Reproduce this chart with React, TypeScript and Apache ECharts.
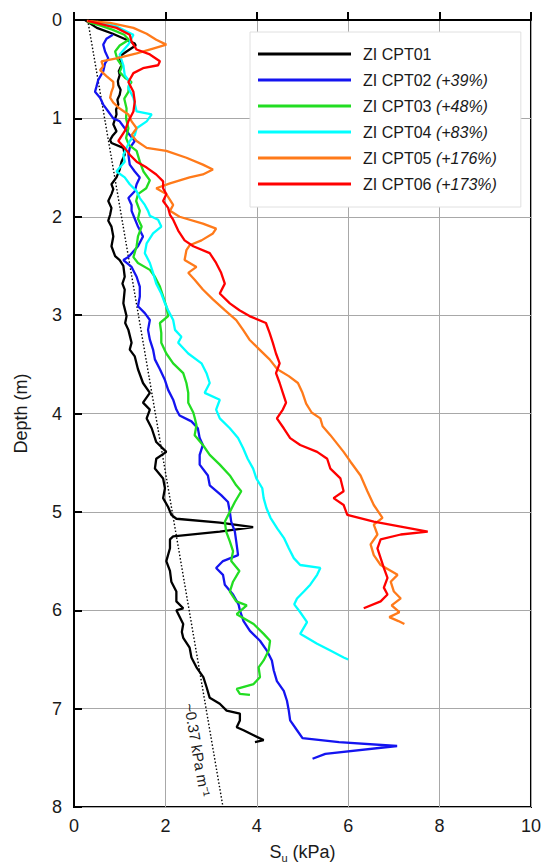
import React, { useEffect, useRef } from "react";
import * as echarts from "echarts";

// [Su (kPa), depth (m)]
const cpt01: [number, number][] = [
  [0.24, 0.0], [0.5, 0.08], [0.85, 0.14], [1.1, 0.19], [1.33, 0.24], [1.35, 0.26], [1.15, 0.32], [1.0, 0.37], [1.04, 0.46], [0.98, 0.52],
  [1.0, 0.56], [0.96, 0.62], [0.97, 0.66], [1.02, 0.71], [1.0, 0.76], [0.95, 0.81], [0.97, 0.86], [0.92, 0.91], [0.93, 0.96], [0.86, 1.06],
  [0.93, 1.13], [0.84, 1.18], [0.79, 1.22], [0.82, 1.25], [1.08, 1.3], [1.11, 1.37], [1.04, 1.44], [1.0, 1.52], [0.93, 1.6], [0.82, 1.67],
  [0.86, 1.72], [0.82, 1.77], [0.75, 1.84], [0.82, 1.91], [0.79, 1.98], [0.75, 2.04], [0.82, 2.1], [0.86, 2.2], [0.82, 2.3], [0.9, 2.4],
  [1.0, 2.44], [1.08, 2.5], [1.11, 2.61], [1.06, 2.68], [1.11, 2.74], [1.08, 2.88], [1.15, 3.01], [1.12, 3.08], [1.19, 3.15], [1.26, 3.28],
  [1.22, 3.35], [1.33, 3.42], [1.4, 3.55], [1.51, 3.69], [1.66, 3.79], [1.51, 3.89], [1.66, 3.96], [1.59, 4.05], [1.7, 4.15], [1.8, 4.29],
  [2.02, 4.39], [1.8, 4.46], [1.77, 4.56], [1.95, 4.66], [1.99, 4.76], [1.95, 4.86], [2.06, 4.95], [2.13, 5.03], [2.24, 5.07], [3.19, 5.11],
  [3.92, 5.155], [3.19, 5.2], [2.17, 5.25], [2.1, 5.28], [2.1, 5.37], [2.02, 5.5], [2.1, 5.6], [2.13, 5.71], [2.24, 5.81], [2.24, 5.91],
  [2.39, 5.98], [2.24, 6.0], [2.39, 6.14], [2.36, 6.22], [2.39, 6.28], [2.53, 6.38], [2.57, 6.48], [2.68, 6.58], [2.83, 6.68], [2.9, 6.78],
  [2.97, 6.89], [3.19, 6.95], [3.34, 7.02], [3.63, 7.05], [3.63, 7.12], [3.56, 7.19], [3.71, 7.22], [3.93, 7.27], [4.15, 7.32], [3.96, 7.34],
];

const cpt02: [number, number][] = [
  [0.85, 0.15], [0.71, 0.19], [0.64, 0.25], [0.68, 0.32], [0.75, 0.39], [0.68, 0.44], [0.64, 0.52], [0.53, 0.61], [0.49, 0.68], [0.46, 0.73],
  [0.57, 0.79], [0.64, 0.86], [0.75, 0.93], [0.86, 1.0], [1.0, 1.03], [1.11, 1.1], [1.22, 1.17], [1.33, 1.23], [1.22, 1.3], [1.19, 1.37],
  [1.22, 1.47], [1.33, 1.54], [1.44, 1.6], [1.37, 1.67], [1.33, 1.74], [1.19, 1.81], [1.26, 1.88], [1.26, 1.94], [1.33, 2.02], [1.4, 2.1],
  [1.51, 2.2], [1.4, 2.3], [1.19, 2.41], [1.08, 2.44], [1.26, 2.51], [1.37, 2.61], [1.44, 2.71], [1.44, 2.81], [1.4, 2.91], [1.55, 2.98],
  [1.66, 3.05], [1.62, 3.15], [1.66, 3.25], [1.73, 3.35], [1.77, 3.45], [1.88, 3.55], [1.99, 3.66], [2.06, 3.76], [2.17, 3.86], [2.24, 3.96],
  [2.31, 4.02], [2.57, 4.08], [2.71, 4.15], [2.75, 4.25], [2.82, 4.32], [2.75, 4.42], [2.75, 4.52], [2.93, 4.63], [2.97, 4.73], [3.22, 4.83],
  [3.37, 4.9], [3.41, 5.0], [3.44, 5.1], [3.52, 5.2], [3.55, 5.3], [3.59, 5.44], [3.26, 5.5], [3.11, 5.57], [3.26, 5.64], [3.3, 5.74],
  [3.48, 5.84], [3.6, 5.94], [3.63, 6.0], [3.71, 6.11], [3.85, 6.21], [4.07, 6.31], [4.22, 6.41], [4.33, 6.51], [4.37, 6.61], [4.44, 6.72],
  [4.59, 6.82], [4.66, 6.92], [4.7, 7.02], [4.73, 7.12], [4.88, 7.22], [5.0, 7.3], [5.8, 7.34], [7.07, 7.38], [5.5, 7.46], [5.22, 7.51],
];

const cpt03: [number, number][] = [
  [0.3, 0.02], [0.6, 0.06], [0.85, 0.1], [1.1, 0.15], [1.2, 0.2], [1.0, 0.26], [0.9, 0.32], [0.95, 0.4], [1.05, 0.47], [1.0, 0.53],
  [1.12, 0.59], [1.26, 0.63], [1.2, 0.67], [1.19, 0.73], [1.1, 0.8], [1.15, 0.9], [1.14, 1.0], [1.19, 1.1], [1.14, 1.2], [1.2, 1.27],
  [1.37, 1.33], [1.44, 1.44], [1.52, 1.54], [1.66, 1.63], [1.58, 1.71], [1.4, 1.77], [1.36, 1.84], [1.44, 1.94], [1.4, 2.02], [1.48, 2.1],
  [1.4, 2.2], [1.37, 2.3], [1.3, 2.41], [1.4, 2.47], [1.66, 2.54], [1.77, 2.61], [1.88, 2.71], [1.95, 2.81], [2.02, 2.91], [2.06, 3.01],
  [1.88, 3.08], [1.91, 3.18], [1.91, 3.28], [2.02, 3.39], [2.17, 3.49], [2.39, 3.59], [2.46, 3.69], [2.5, 3.79], [2.5, 3.89], [2.61, 3.99],
  [2.64, 4.04], [2.68, 4.12], [2.64, 4.22], [2.82, 4.32], [2.97, 4.42], [3.19, 4.52], [3.41, 4.63], [3.55, 4.73], [3.66, 4.79], [3.52, 4.9],
  [3.41, 5.0], [3.3, 5.1], [3.33, 5.2], [3.41, 5.3], [3.48, 5.4], [3.44, 5.5], [3.62, 5.6], [3.48, 5.71], [3.41, 5.81], [3.55, 5.91],
  [3.78, 5.95], [3.56, 6.04], [3.93, 6.14], [4.15, 6.24], [4.29, 6.31], [4.26, 6.41], [4.15, 6.51], [4.04, 6.58], [4.07, 6.68], [3.93, 6.75],
  [3.56, 6.8], [3.63, 6.85], [3.85, 6.86],
];

const cpt04: [number, number][] = [
  [0.5, 0.02], [0.9, 0.06], [1.3, 0.15], [1.19, 0.25], [1.0, 0.35], [1.08, 0.46], [1.11, 0.56], [1.22, 0.63], [1.19, 0.69], [1.3, 0.79],
  [1.37, 0.93], [1.7, 0.96], [1.59, 1.03], [1.37, 1.1], [1.33, 1.17], [1.22, 1.23], [1.15, 1.3], [1.08, 1.37], [1.11, 1.44], [1.0, 1.5],
  [0.93, 1.54], [1.11, 1.6], [1.22, 1.67], [1.37, 1.74], [1.44, 1.81], [1.55, 1.88], [1.62, 1.94], [1.66, 1.99], [1.84, 2.03], [1.91, 2.1],
  [1.73, 2.17], [1.59, 2.27], [1.55, 2.37], [1.66, 2.47], [1.73, 2.57], [1.8, 2.68], [1.91, 2.78], [1.99, 2.88], [2.06, 2.95], [2.17, 3.05],
  [2.21, 3.15], [2.35, 3.22], [2.28, 3.28], [2.5, 3.39], [2.79, 3.49], [2.9, 3.59], [2.97, 3.69], [2.86, 3.79], [3.19, 3.86], [3.11, 3.96],
  [3.19, 4.05], [3.41, 4.15], [3.59, 4.25], [3.7, 4.35], [3.8, 4.46], [3.92, 4.56], [3.99, 4.66], [4.12, 4.76], [4.15, 4.86], [4.21, 4.96],
  [4.3, 5.06], [4.45, 5.17], [4.6, 5.27], [4.7, 5.37], [4.81, 5.47], [4.95, 5.54], [5.39, 5.57], [5.32, 5.64], [5.17, 5.74], [5.03, 5.81],
  [4.88, 5.88], [4.82, 5.94], [4.95, 6.02], [5.1, 6.12], [4.95, 6.24], [5.32, 6.34], [5.61, 6.41], [5.9, 6.48], [6.0, 6.5],
];

const cpt05: [number, number][] = [
  [0.28, 0.01], [0.79, 0.03], [1.3, 0.08], [1.59, 0.14], [1.8, 0.2], [2.02, 0.25], [1.73, 0.29], [1.37, 0.34], [0.93, 0.39], [0.6, 0.42],
  [0.64, 0.47], [0.57, 0.51], [0.71, 0.57], [0.86, 0.63], [0.86, 0.68], [0.82, 0.73], [0.79, 0.79], [0.86, 0.84], [1.0, 0.9], [1.19, 0.96],
  [1.26, 1.03], [1.37, 1.1], [1.26, 1.17], [1.37, 1.23], [1.59, 1.3], [2.02, 1.33], [2.46, 1.4], [2.82, 1.47], [3.04, 1.52], [2.82, 1.57],
  [2.53, 1.6], [2.1, 1.66], [1.8, 1.71], [2.02, 1.77], [2.17, 1.88], [2.1, 1.94], [2.31, 2.0], [2.82, 2.07], [3.11, 2.12], [3.04, 2.17],
  [2.79, 2.24], [2.53, 2.29], [2.46, 2.34], [2.42, 2.44], [2.68, 2.51], [2.5, 2.57], [2.64, 2.64], [2.82, 2.74], [3.04, 2.84], [3.3, 2.95],
  [3.55, 3.05], [3.7, 3.15], [3.84, 3.25], [4.06, 3.35], [4.28, 3.45], [4.45, 3.55], [4.7, 3.62], [4.9, 3.69], [5.0, 3.79], [5.08, 3.9],
  [5.2, 3.99], [5.39, 4.05], [5.44, 4.13], [5.61, 4.22], [5.9, 4.39], [6.05, 4.49], [6.27, 4.63], [6.42, 4.79], [6.56, 4.93], [6.75, 5.06],
  [6.56, 5.13], [6.64, 5.23], [6.49, 5.33], [6.56, 5.44], [6.71, 5.54], [7.08, 5.64], [6.93, 5.71], [7.0, 5.81], [7.15, 5.88], [6.95, 5.95],
  [7.12, 6.02], [6.9, 6.07], [7.1, 6.11], [7.23, 6.14],
];

const cpt06: [number, number][] = [
  [0.3, 0.01], [0.93, 0.08], [1.22, 0.15], [1.26, 0.22], [1.37, 0.3], [1.66, 0.35], [1.88, 0.42], [1.84, 0.46], [1.51, 0.49], [1.3, 0.54],
  [1.19, 0.63], [1.3, 0.73], [1.33, 0.83], [1.3, 0.93], [1.19, 1.03], [1.11, 1.13], [0.97, 1.23], [1.11, 1.3], [1.22, 1.37], [1.37, 1.44],
  [1.59, 1.5], [1.8, 1.57], [1.95, 1.64], [1.95, 1.71], [2.02, 1.77], [1.95, 1.84], [2.06, 1.91], [2.1, 1.98], [2.17, 2.03], [2.28, 2.14],
  [2.42, 2.24], [2.61, 2.3], [2.97, 2.37], [3.11, 2.47], [3.22, 2.57], [3.3, 2.68], [3.19, 2.78], [3.41, 2.88], [3.62, 2.95], [3.84, 3.01],
  [4.2, 3.08], [4.28, 3.18], [4.35, 3.28], [4.42, 3.39], [4.5, 3.49], [4.42, 3.59], [4.5, 3.69], [4.57, 3.79], [4.64, 3.89], [4.57, 3.96],
  [4.44, 4.05], [4.59, 4.15], [4.73, 4.25], [4.95, 4.32], [5.32, 4.39], [5.54, 4.46], [5.61, 4.56], [5.83, 4.66], [5.9, 4.79], [5.68, 4.86],
  [5.9, 4.93], [5.98, 5.03], [6.56, 5.1], [7.15, 5.15], [7.74, 5.2], [7.15, 5.23], [6.71, 5.28], [6.64, 5.37], [6.71, 5.47], [6.78, 5.57],
  [6.86, 5.67], [6.78, 5.77], [6.86, 5.84], [6.71, 5.91], [6.34, 5.98],
];

// trend line ~0.37 kPa per metre
const trendLine: [number, number][] = [[0.3, 0], [3.26, 8]];

const seriesNames = ["ZI CPT01", "ZI CPT02", "ZI CPT03", "ZI CPT04", "ZI CPT05", "ZI CPT06"];
const seriesSuffix = ["", "(+39%)", "(+48%)", "(+83%)", "(+176%)", "(+173%)"];
const seriesColors = ["#000000", "#1414f0", "#22dd22", "#00ffff", "#ff7a1a", "#ff0000"];
const seriesData = [cpt01, cpt02, cpt03, cpt04, cpt05, cpt06];

const FONT = "'Liberation Sans', Arial, sans-serif";

export default function App() {
  const ref = useRef<HTMLDivElement>(null);
  useEffect(() => {
    document.body.style.margin = "0";
    if (!ref.current) return;
    const chart = echarts.init(ref.current, null, { renderer: "svg" });
    const lines = seriesData.map((d, i) => ({
      name: seriesNames[i],
      type: "line",
      data: d,
      symbol: "none",
      showSymbol: false,
      lineStyle: { color: seriesColors[i], width: 2.3 },
      itemStyle: { color: seriesColors[i] },
      z: 3 + i,
    }));
    chart.setOption({
      animation: false,
      textStyle: { fontFamily: FONT },
      grid: { left: 74, right: 12, top: 20, bottom: 59, show: true, borderColor: "#000", borderWidth: 2 },
      xAxis: {
        type: "value",
        min: 0,
        max: 10,
        interval: 2,
        position: "bottom",
        name: "{s|S}{u|u}{s| (kPa)}",
        nameLocation: "middle",
        nameGap: 33,
        nameTextStyle: {
          rich: {
            s: { fontSize: 18, color: "#1a1a1a", fontFamily: FONT },
            u: { fontSize: 11, color: "#1a1a1a", fontFamily: FONT, padding: [12, 0, 0, 0] },
          },
        },
        axisLine: { lineStyle: { color: "#000", width: 2 } },
        axisTick: { inside: true, length: 8, lineStyle: { color: "#000", width: 2 } },
        axisLabel: { fontSize: 18, color: "#1a1a1a", margin: 10, fontFamily: FONT },
        splitLine: { lineStyle: { color: "#a8a8a8", width: 1 } },
      },
      yAxis: {
        type: "value",
        inverse: true,
        min: 0,
        max: 8,
        interval: 1,
        name: "Depth (m)",
        nameLocation: "middle",
        nameGap: 44,
        nameTextStyle: { fontSize: 18, color: "#1a1a1a", fontFamily: FONT },
        axisLine: { lineStyle: { color: "#000", width: 2 } },
        axisTick: { inside: true, length: 8, lineStyle: { color: "#000", width: 2 } },
        axisLabel: { fontSize: 18, color: "#1a1a1a", margin: 12, fontFamily: FONT },
        splitLine: { lineStyle: { color: "#a8a8a8", width: 1 } },
      },
      legend: {
        data: seriesNames,
        orient: "vertical",
        left: 250,
        top: 32,
        padding: [13, 24, 14, 8],
        icon: "rect",
        itemGap: 8,
        itemWidth: 93,
        itemHeight: 3,
        backgroundColor: "#ffffff",
        borderColor: "#e0e0e0",
        borderWidth: 1,
        formatter: (name: string) => {
          const i = seriesNames.indexOf(name);
          return seriesSuffix[i] ? `${name} {i|${seriesSuffix[i]}}` : name;
        },
        textStyle: {
          fontSize: 16,
          lineHeight: 18,
          color: "#1a1a1a",
          fontFamily: FONT,
          padding: [0, 0, 0, 7],
          rich: { i: { fontSize: 16, lineHeight: 18, fontStyle: "italic", color: "#1a1a1a", fontFamily: FONT } },
        },
      },
      series: [
        {
          name: "trend",
          type: "line",
          data: trendLine,
          symbol: "none",
          lineStyle: { color: "#000", width: 1.4, type: [1.5, 2] },
          z: 2,
        },
        ...lines,
      ],
    });
    const p1 = chart.convertToPixel({ xAxisIndex: 0, yAxisIndex: 0 }, trendLine[0]) as number[];
    const p2 = chart.convertToPixel({ xAxisIndex: 0, yAxisIndex: 0 }, trendLine[1]) as number[];
    const ang = Math.atan2(p2[1] - p1[1], p2[0] - p1[0]);
    const c = chart.convertToPixel({ xAxisIndex: 0, yAxisIndex: 0 }, [2.7, 7.42]) as number[];
    chart.setOption({
      graphic: [
        {
          type: "text",
          x: c[0],
          y: c[1],
          rotation: -ang,
          z: 10,
          style: {
            text: "~0.37 kPa m⁻¹",
            fontSize: 15,
            fontFamily: FONT,
            fill: "#1a1a1a",
            align: "center",
            verticalAlign: "middle",
          },
        },
      ],
    });
    return () => chart.dispose();
  }, []);
  return <div ref={ref} style={{ width: 544, height: 868 }} />;
}
